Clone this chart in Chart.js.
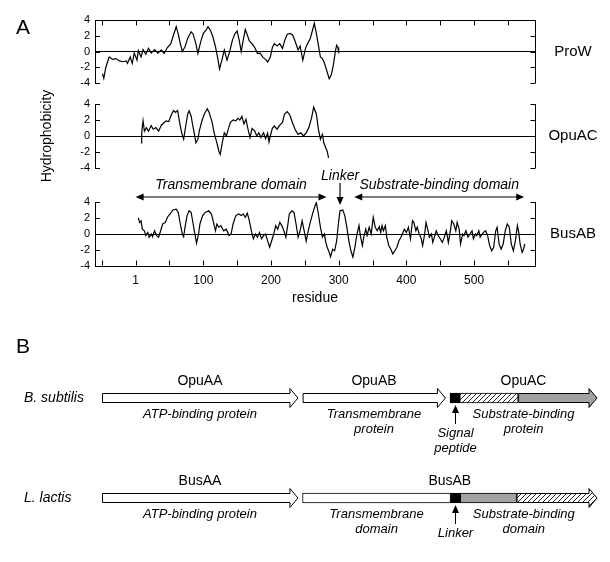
<!DOCTYPE html>
<html>
<head>
<meta charset="utf-8">
<script src="https://cdn.jsdelivr.net/npm/chart.js@4.4.1/dist/chart.umd.min.js"></script>
<style>
  html, body { margin: 0; padding: 0; background: #fff; }
  #wrap { position: relative; width: 610px; height: 562px; }
  #wrap canvas { position: absolute; left: 0; }
</style>
</head>
<body>
<div id="wrap">
  <canvas id="prow" width="610" height="310" style="top:0"></canvas>
  <canvas id="opuac" width="610" height="310" style="top:0"></canvas>
  <canvas id="busab" width="610" height="310" style="top:0"></canvas>
  <canvas id="genes" width="610" height="252" style="top:310px"></canvas>
</div>
<script>
// hydrophobicity profiles, [residue, value]
const prowProfile = [
  [-49,-2.8],[-47,-3.4],[-44,-2.0],[-39,-0.7],[-34,-1.0],[-29,-0.9],[-24,-1.2],[-19,-1.3],[-14,-1.2],[-12,-1.5],
  [-8,-0.7],[-5,-1.5],[-2,-0.2],[2,-1.1],[4,0.1],[8,-0.7],[11,0.25],[15,-0.35],[19,0.4],[23,-0.2],
  [28,0.25],[33,-0.2],[38,0.2],[42,-0.25],[47,0.5],[52,1.0],[56,2.1],[60,3.15],[63,2.2],[66,1.0],
  [69,0],[73,0.6],[77,1.7],[82,2.5],[85,2.2],[89,1.0],[92,-0.25],[96,1.2],[100,2.3],[104,2.7],
  [107,3.15],[111,2.6],[114,1.9],[118,0.6],[121,-0.7],[124,-2.2],[128,-0.9],[131,0.2],[135,-1.1],[139,0],
  [143,1.45],[147,2.3],[150,2.6],[153,1.45],[156,0],[159,1.45],[162,2.8],[165,2.1],[168,1.35],[172,1.0],
  [176,0.5],[180,-0.25],[184,-0.2],[188,-0.75],[192,-1.0],[195,-1.35],[199,-0.7],[202,0.5],[205,1.0],[209,0.7],
  [213,1.0],[217,0.4],[220,1.35],[224,2.2],[228,2.3],[232,2.1],[236,1.2],[240,0.2],[243,0.7],[247,-1.1],
  [251,0.4],[254,1.0],[258,1.65],[261,2.6],[264,3.6],[267,2.3],[270,0.8],[273,-0.7],[276,-0.9],[279,-1.5],
  [283,-2.6],[286,-3.45],[289,-3.0],[292,-1.75],[295,-0.05],[297,0.8],[299,0.5],[300,-0.25]
];
const opuacProfile = [
  [8,-0.85],[9,0.4],[11,1.9],[13,0.6],[16,1.05],[19,0.6],[23,1.3],[26,0.85],[30,1.05],[34,0.6],
  [38,1.35],[41,1.6],[45,1.9],[49,1.8],[52,2.5],[56,3.2],[59,2.95],[62,3.2],[65,1.7],[68,0.4],
  [71,-0.4],[74,1.25],[77,2.75],[79,3.15],[82,2.5],[84,1.5],[87,0.2],[89,-0.85],[92,-0.4],[94,0.6],
  [98,1.9],[102,2.85],[106,3.4],[109,2.85],[113,1.7],[116,0.4],[120,-0.85],[123,-1.9],[125,-2.3],[128,-0.85],
  [131,0.4],[134,0],[137,0.85],[140,1.7],[144,2.0],[148,1.9],[151,2.2],[154,2.0],[157,2.45],[160,1.5],
  [163,2.1],[166,0.85],[169,-0.2],[172,0.95],[176,0.6],[179,0],[182,0.4],[185,-0.2],[189,0.4],[192,-0.35],
  [195,0.35],[197,-0.75],[199,0],[202,0.95],[205,1.25],[209,0.85],[213,1.35],[217,1.7],[220,2.75],[224,3.05],
  [228,2.6],[232,1.6],[236,0.75],[240,0.2],[244,0.4],[248,0],[252,0.4],[256,1.05],[260,2.3],[263,3.6],
  [267,2.75],[270,0.85],[273,-0.4],[276,0.2],[278,-0.85],[281,-1.5],[283,-1.9],[285,-2.75]
];
const busabProfile = [
  [4,2.0],[6,1.45],[8,1.65],[10,0.6],[13,0.4],[15,-0.2],[18,0.2],[20,-0.4],[23,0],[25,-0.35],
  [28,0.4],[31,-0.2],[34,-0.4],[37,0.4],[40,1.25],[44,1.45],[47,2.1],[51,2.5],[55,3.0],[60,3.1],
  [63,2.7],[66,1.25],[69,0],[71,-0.35],[73,0.85],[76,2.3],[79,2.9],[82,2.7],[85,1.25],[88,-0.2],
  [90,-1.15],[93,0],[95,1.25],[99,2.3],[103,2.7],[108,2.9],[112,2.5],[115,1.45],[118,0.4],[120,1.25],
  [123,0.85],[126,1.05],[130,0.4],[134,0.6],[138,-0.2],[141,0],[144,1.25],[148,2.3],[152,2.5],[156,2.3],
  [159,2.5],[162,2.1],[165,2.6],[168,1.65],[171,0.4],[174,-0.6],[177,0],[180,-0.4],[183,0.2],[186,-0.6],
  [189,-0.2],[192,0],[195,-0.85],[198,-1.65],[201,-0.85],[204,0],[207,1.05],[210,0.6],[213,1.45],[216,1.05],
  [219,0.4],[222,-0.4],[225,1.25],[227,2.5],[231,2.9],[234,2.7],[237,1.25],[240,-0.4],[243,0.4],[246,1.65],
  [249,0.4],[252,-0.9],[255,0.4],[258,1.45],[262,2.7],[265,3.5],[267,3.95],[270,2.5],[273,0.85],[276,-0.4],
  [279,0],[281,-1.05],[283,-1.65],[286,-2.3],[288,-2.85],[291,-1.9],[294,-2.1],[297,-0.85],[300,1.65],[302,2.9],
  [306,3.0],[309,2.3],[312,0.85],[315,-0.85],[318,-2.1],[321,-2.9],[324,-1.65],[327,0],[330,1.05],[332,-0.2],
  [335,-1.45],[337,-0.4],[340,0.6],[342,-0.2],[345,0.85],[348,0],[351,2.1],[354,0.85],[357,0.4],[360,0.9],
  [362,0.2],[364,1.05],[366,0.4],[369,1.05],[371,-0.4],[374,-1.45],[377,-1.9],[380,-2.5],[383,-2.1],[386,-1.65],
  [389,-0.85],[392,-0.4],[394,0],[397,0.6],[400,0.2],[403,0.85],[406,-0.6],[409,1.65],[411,1.45],[414,0.4],
  [416,0.85],[419,0],[422,-0.6],[424,-1.45],[427,0],[429,1.45],[432,0.4],[434,-0.4],[437,0],[439,-1.05],
  [442,-0.2],[444,0.4],[447,-0.2],[450,-0.6],[453,-1.05],[456,-0.4],[459,0.4],[462,-1.05],[465,0.4],[467,1.65],
  [470,1.25],[473,0.4],[475,1.45],[478,0.6],[480,-1.25],[483,0],[485,-0.2],[488,0.4],[491,-0.4],[494,0],
  [497,0.4],[499,-0.6],[502,0],[504,-0.2],[507,0.4],[509,-0.4],[512,0],[514,0.2],[517,0.4],[520,-0.2],
  [523,-1.45],[526,-2.1],[529,-1.65],[532,0.4],[534,0.85],[537,-1.25],[540,-1.9],[543,-1.25],[546,0.4],[549,1.25],
  [552,0.85],[555,-1.25],[558,-2.1],[561,-0.85],[564,1.05],[566,0.2],[568,-1.25],[571,-2.3],[573,-1.9],[575,-1.25]
];

const xTickValues = [-50, 0, 50, 100, 150, 200, 250, 300, 350, 400, 450, 500, 550];
const yTickValues = [-4, -2, 0, 2, 4];

// BusAB domain annotation (residues)
const domainNames = ['Transmembrane domain', 'Substrate-binding domain'];
const domainStart = [0, 323];
const domainEnd = [282, 574];
const linkerResidue = 302;

// panel B, gene layout in residues
const rowNames = ['B. subtilis', 'L. lactis'];
const segRow = [0, 0, 0, 0, 0, 1, 1, 1, 1, 1];
const segStart = [0, 389, 675, 694, 807, 0, 389, 676, 695, 804];
const segEnd = [380, 666, 694, 807, 960, 380, 676, 695, 804, 960];
const segFill = ['white', 'white', 'black', 'hatch', 'gray', 'white', 'white', 'black', 'gray', 'hatch'];
const segArrow = [true, true, false, false, true, true, false, false, false, true];

const geneNames = ['OpuAA', 'OpuAB', 'OpuAC', 'BusAA', 'BusAB'];
const geneRow = [0, 0, 0, 1, 1];
const geneStart = [0, 389, 675, 0, 389];
const geneEnd = [380, 666, 960, 380, 960];

const noteLines = [['ATP-binding protein'], ['Transmembrane', 'protein'], ['Substrate-binding', 'protein'],
                   ['ATP-binding protein'], ['Transmembrane', 'domain'], ['Substrate-binding', 'domain']];
const noteRow = [0, 0, 0, 1, 1, 1];
const noteStart = [0, 389, 675, 0, 389, 676];
const noteEnd = [380, 666, 960, 380, 676, 960];

const pointerLines = [['Signal', 'peptide'], ['Linker']];
const pointerRow = [0, 1];
const pointerAt = [684.5, 685.5];

const FONT = '"Liberation Sans", Arial, Helvetica, sans-serif';
Chart.defaults.font.family = FONT;
Chart.defaults.color = '#000';

function arrowHead(ctx, x, y, dx, dy) {
    // filled triangle with its tip at x,y pointing along dx,dy
    const len = 8, half = 3.5;
    ctx.beginPath();
    ctx.moveTo(x, y);
    ctx.lineTo(x - dx * len - dy * half, y - dy * len - dx * half);
    ctx.lineTo(x - dx * len + dy * half, y - dy * len + dx * half);
    ctx.closePath();
    ctx.fill();
}

const hydroFrame = {
    id: 'hydroFrame',
    afterDraw(chart, args, o) {
        const { ctx, chartArea: a, scales: { x, y } } = chart;
        ctx.save();
        ctx.strokeStyle = '#000';
        ctx.lineWidth = 1;
        ctx.beginPath();
        const r = Math.round(a.right) + 0.5;
        ctx.moveTo(r, a.top);
        ctx.lineTo(r, a.bottom);
        yTickValues.forEach(v => {
            const py = Math.round(y.getPixelForValue(v)) + 0.5;
            ctx.moveTo(a.left, py); ctx.lineTo(a.left + 5, py);
            ctx.moveTo(r, py); ctx.lineTo(r - 5, py);
        });
        if (o.top) {
            const t = Math.round(a.top) + 0.5;
            ctx.moveTo(a.left, t); ctx.lineTo(r, t);
            xTickValues.forEach(v => {
                const px = Math.round(x.getPixelForValue(v)) + 0.5;
                ctx.moveTo(px, t); ctx.lineTo(px, t + 5);
            });
        }
        if (o.bottom) {
            const b = Math.round(a.bottom) - 0.5;
            xTickValues.forEach(v => {
                const px = Math.round(x.getPixelForValue(v)) + 0.5;
                ctx.moveTo(px, b); ctx.lineTo(px, b - 5);
            });
        }
        ctx.stroke();

        ctx.fillStyle = '#000';
        ctx.font = '15px ' + FONT;
        ctx.textAlign = 'center';
        ctx.textBaseline = 'middle';
        ctx.fillText(o.label, a.right + 38, y.getPixelForValue(0));
        if (o.letter) {
            ctx.font = '21px ' + FONT;
            ctx.textAlign = 'left';
            ctx.textBaseline = 'alphabetic';
            ctx.fillText(o.letter, 16, 34);
        }
        ctx.restore();
    }
};

const domainMarks = {
    id: 'domainMarks',
    afterDraw(chart) {
        const { ctx, chartArea: a, scales: { x } } = chart;
        ctx.save();
        ctx.strokeStyle = '#000';
        ctx.fillStyle = '#000';
        ctx.lineWidth = 1.2;
        ctx.font = 'italic 14px ' + FONT;
        ctx.textAlign = 'center';
        ctx.textBaseline = 'middle';
        const ay = a.top - 5;
        domainNames.forEach((name, i) => {
            const x0 = x.getPixelForValue(domainStart[i]);
            const x1 = x.getPixelForValue(domainEnd[i]);
            ctx.beginPath();
            ctx.moveTo(x0 + 4, ay);
            ctx.lineTo(x1 - 4, ay);
            ctx.stroke();
            arrowHead(ctx, x0, ay, -1, 0);
            arrowHead(ctx, x1, ay, 1, 0);
            ctx.fillText(name, (x0 + x1) / 2, a.top - 17);
        });
        const lx = x.getPixelForValue(linkerResidue);
        ctx.fillText('Linker', lx, a.top - 26);
        ctx.beginPath();
        ctx.moveTo(lx, a.top - 19);
        ctx.lineTo(lx, a.top - 3);
        ctx.stroke();
        arrowHead(ctx, lx, a.top + 3, 0, 1);
        ctx.restore();
    }
};

function profileChart(id, profile, o) {
    return new Chart(document.getElementById(id), {
        type: 'line',
        data: {
            datasets: [{
                data: profile.map(p => ({ x: p[0], y: p[1] })),
                borderColor: '#000',
                borderWidth: 1.2,
                pointRadius: 0,
                tension: 0,
                fill: false
            }]
        },
        options: {
            responsive: false,
            animation: false,
            events: [],
            layout: { padding: { left: 35, right: 75, top: o.top, bottom: o.bottom } },
            plugins: {
                legend: { display: false },
                tooltip: { enabled: false },
                hydroFrame: o.frame
            },
            scales: {
                x: {
                    type: 'linear',
                    min: -60,
                    max: 590,
                    display: o.showX,
                    afterBuildTicks: function (scale) {
                        scale.ticks = xTickValues.map(v => ({ value: v }));
                    },
                    afterFit: function (scale) {
                        scale.height = o.showX ? 44 : 0;
                    },
                    grid: { display: false, drawTicks: false },
                    border: { display: true, color: '#000', width: 1 },
                    ticks: {
                        padding: 7,
                        autoSkip: false,
                        maxRotation: 0,
                        font: { size: 12 },
                        callback: function (value) {
                            if (value === 0) return '1';
                            return value > 0 && value % 100 === 0 ? String(value) : '';
                        }
                    },
                    title: { display: true, text: 'residue', font: { size: 14 }, padding: { top: 0, bottom: 3 } }
                },
                y: {
                    min: -4,
                    max: 4,
                    afterBuildTicks: function (scale) {
                        scale.ticks = yTickValues.map(v => ({ value: v }));
                    },
                    afterFit: function (scale) {
                        scale.width = 60;
                    },
                    grid: {
                        drawTicks: false,
                        lineWidth: 1,
                        color: c => (c.tick && c.tick.value === 0 ? '#000' : 'rgba(0,0,0,0)')
                    },
                    border: { display: true, color: '#000', width: 1 },
                    ticks: { padding: 5, autoSkip: false, font: { size: 11 } },
                    title: { display: !!o.yTitle, text: o.yTitle || '', font: { size: 14 }, padding: 4 }
                }
            }
        },
        plugins: [hydroFrame].concat(o.extra || [])
    });
}

profileChart('prow', prowProfile, {
    top: 20, bottom: 227, showX: false,
    frame: { label: 'ProW', top: true, letter: 'A' }
});
profileChart('opuac', opuacProfile, {
    top: 104, bottom: 142, showX: false, yTitle: 'Hydrophobicity',
    frame: { label: 'OpuAC' }
});
profileChart('busab', busabProfile, {
    top: 202, bottom: 0, showX: true,
    frame: { label: 'BusAB', bottom: true },
    extra: [domainMarks]
});

// ---- panel B ----
const genesCanvas = document.getElementById('genes');
const genesCtx = genesCanvas.getContext('2d');

function makeHatch() {
    const tile = document.createElement('canvas');
    tile.width = 5;
    tile.height = 5;
    const t = tile.getContext('2d');
    t.fillStyle = '#fff';
    t.fillRect(0, 0, 5, 5);
    t.strokeStyle = '#222';
    t.lineWidth = 1;
    t.beginPath();
    t.moveTo(-1, 6); t.lineTo(6, -1);
    t.moveTo(-1, 1); t.lineTo(1, -1);
    t.moveTo(4, 6); t.lineTo(6, 4);
    t.stroke();
    return genesCtx.createPattern(tile, 'repeat');
}
const hatch = makeHatch();
const fills = { white: '#fff', black: '#000', gray: '#a2a2a2', hatch: hatch };

const geneMarks = {
    id: 'geneMarks',
    afterDatasetsDraw(chart) {
        const { ctx, scales: { x, y } } = chart;
        const bars = chart.getDatasetMeta(0).data;
        const headLen = 8, headHalf = 9.5;
        ctx.save();
        ctx.strokeStyle = '#000';
        ctx.lineWidth = 1;
        bars.forEach((el, i) => {
            if (!segArrow[i]) return;
            const p = el.getProps(['x', 'y', 'base', 'height'], true);
            const x0 = Math.min(p.x, p.base) + 0.5;
            const x1 = Math.max(p.x, p.base);
            const t = p.y - p.height / 2 + 0.5;
            const b = p.y + p.height / 2 - 0.5;
            ctx.beginPath();
            ctx.moveTo(x0, t);
            ctx.lineTo(x1 - headLen, t);
            ctx.lineTo(x1 - headLen, p.y - headHalf);
            ctx.lineTo(x1, p.y);
            ctx.lineTo(x1 - headLen, p.y + headHalf);
            ctx.lineTo(x1 - headLen, b);
            ctx.lineTo(x0, b);
            ctx.closePath();
            ctx.fillStyle = fills[segFill[i]];
            ctx.fill();
            ctx.stroke();
        });

        ctx.fillStyle = '#000';
        ctx.textAlign = 'center';
        ctx.textBaseline = 'middle';
        ctx.font = '14px ' + FONT;
        geneNames.forEach((g, i) => {
            const cx = (x.getPixelForValue(geneStart[i]) + x.getPixelForValue(geneEnd[i])) / 2;
            ctx.fillText(g, cx, y.getPixelForValue(geneRow[i]) - 17);
        });

        ctx.font = 'italic 13px ' + FONT;
        noteLines.forEach((lines, i) => {
            const cx = (x.getPixelForValue(noteStart[i]) + x.getPixelForValue(noteEnd[i])) / 2;
            const cy = y.getPixelForValue(noteRow[i]);
            lines.forEach((ln, k) => ctx.fillText(ln, cx, cy + 16 + 15 * k));
        });

        pointerLines.forEach((lines, i) => {
            const px = Math.round(x.getPixelForValue(pointerAt[i])) + 0.5;
            const cy = y.getPixelForValue(pointerRow[i]);
            ctx.beginPath();
            ctx.moveTo(px, cy + 26);
            ctx.lineTo(px, cy + 12);
            ctx.stroke();
            arrowHead(ctx, px, cy + 7, 0, -1);
            lines.forEach((ln, k) => ctx.fillText(ln, px, cy + 35 + 15 * k));
        });

        ctx.textAlign = 'left';
        ctx.textBaseline = 'alphabetic';
        ctx.font = '21px ' + FONT;
        ctx.fillText('B', 16, 43);
        ctx.restore();
    }
};

new Chart(genesCanvas, {
    type: 'bar',
    data: {
        labels: rowNames,
        datasets: [{
            data: segStart.map((s, i) => ({ y: rowNames[segRow[i]], x: [s, segEnd[i]] })),
            backgroundColor: segFill.map((f, i) => (segArrow[i] ? 'rgba(0,0,0,0)' : fills[f])),
            borderColor: segArrow.map(a => (a ? 'rgba(0,0,0,0)' : '#000')),
            borderWidth: 1,
            borderSkipped: false,
            barThickness: 10
        }]
    },
    options: {
        indexAxis: 'y',
        responsive: false,
        animation: false,
        events: [],
        layout: { padding: { left: 24, right: 13, top: 38, bottom: 14 } },
        plugins: {
            legend: { display: false },
            tooltip: { enabled: false }
        },
        scales: {
            x: { type: 'linear', min: 0, max: 960, display: false },
            y: {
                type: 'category',
                afterFit: function (scale) {
                    scale.width = 78;
                },
                grid: { display: false },
                border: { display: false },
                ticks: { crossAlign: 'far', padding: 0, font: { size: 14, style: 'italic' } }
            }
        }
    },
    plugins: [geneMarks]
});
</script>
</body>
</html>
